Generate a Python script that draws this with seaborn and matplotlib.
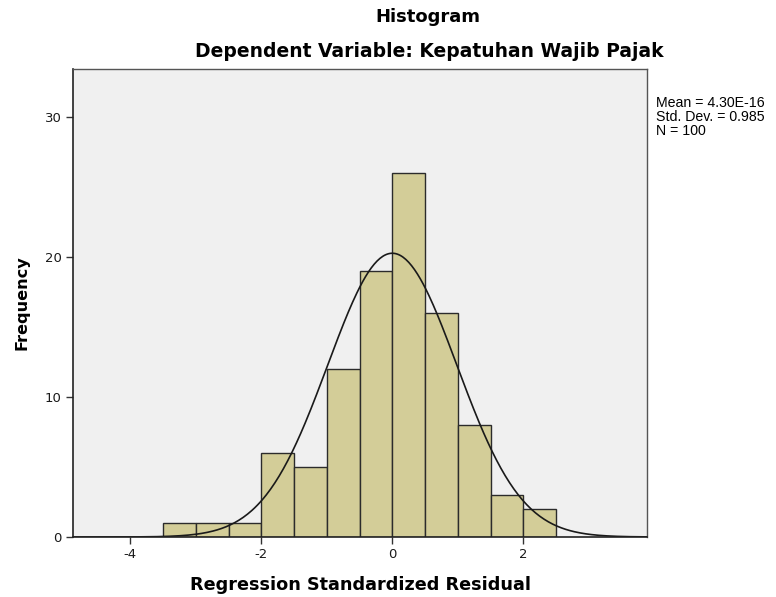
import numpy as np
import pandas as pd
import matplotlib
matplotlib.use("Agg")
import matplotlib.pyplot as plt
import seaborn as sns

# Data
bin_edges = [-3.5, -3.0, -2.5, -2.0, -1.5, -1.0, -0.5, 0.0, 0.5, 1.0, 1.5, 2.0, 2.5]
counts = [1, 1, 1, 6, 5, 12, 19, 26, 16, 8, 3, 2]
mean_val = 4.30e-16
std_val = 0.985
n_val = 100
x_ticks = [-4, -2, 0, 2]
y_ticks = [0, 10, 20, 30]

sns.set_style("white")
plt.rcParams['font.family'] = ['DejaVu Sans']

fig = plt.figure(figsize=(7.76, 5.97), dpi=100)
ax = fig.add_axes([0.0941, 0.1005, 0.7397, 0.7839])
ax.set_facecolor("#F0F0F0")

centers = [(bin_edges[i] + bin_edges[i + 1]) / 2 for i in range(len(counts))]
df = pd.DataFrame({"x": centers, "w": counts})
sns.histplot(data=df, x="x", weights="w", bins=bin_edges, ax=ax,
             color="#D3CD98", edgecolor="#2b2b2b", linewidth=1.0, alpha=1.0)

binw = bin_edges[1] - bin_edges[0]
xs = np.linspace(-4.87, 3.9, 400)
ys = n_val * binw * np.exp(-0.5 * ((xs - mean_val) / std_val) ** 2) / (std_val * np.sqrt(2 * np.pi))
sns.lineplot(x=xs, y=ys, ax=ax, color="#1a1a1a", linewidth=1.2)

ax.set_xlim(-4.875, 3.89)
ax.set_ylim(0, 33.4)
ax.set_xticks(x_ticks)
ax.set_yticks(y_ticks)
ax.set_xticklabels([str(t) for t in x_ticks])
ax.set_yticklabels([str(t) for t in y_ticks])
ax.tick_params(axis="both", direction="out", length=5, width=1, color="#333333",
               labelsize=9.5, labelcolor="#1a1a1a", pad=3)
ax.xaxis.set_ticks_position("bottom")
ax.yaxis.set_ticks_position("left")

for side in ["left", "bottom"]:
    ax.spines[side].set_color("#222222")
    ax.spines[side].set_linewidth(1.2)
for side in ["top", "right"]:
    ax.spines[side].set_color("#555555")
    ax.spines[side].set_linewidth(1.0)

ax.set_xlabel("Regression Standardized Residual", fontsize=12.7, fontweight="bold",
              labelpad=11, color="black")
ax.set_ylabel("Frequency", fontsize=11.6, fontweight="bold", labelpad=11, color="black")

fig.text(427.5 / 776, 0.972, "Histogram", ha="center", va="center", fontsize=13,
         fontweight="bold", color="black")
fig.text(429 / 776, 0.913, "Dependent Variable: Kepatuhan Wajib Pajak", ha="center", va="center",
         fontsize=13.5, fontweight="bold", color="black")

fig.text(656 / 776, 1 - 96 / 597,
         "Mean = 4.30E-16\nStd. Dev. = 0.985\nN = %d" % n_val,
         ha="left", va="top", fontsize=10.2, family="Liberation Sans", linespacing=0.98,
         color="black")

fig.savefig("out.png", dpi=100)
